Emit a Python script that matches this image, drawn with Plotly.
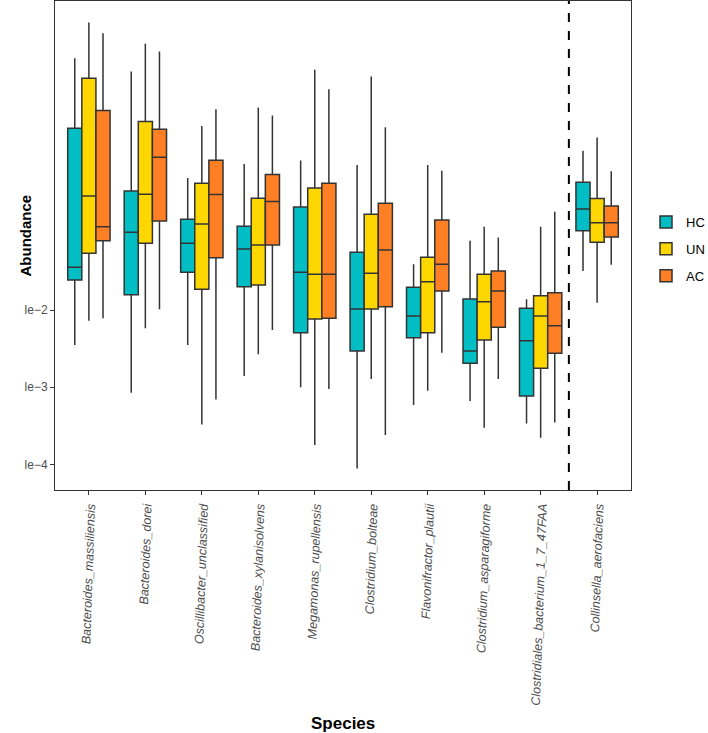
import numpy as np
import plotly.graph_objects as go

# ===============================
# Data (values read as log10 abundance)
# ===============================
species = [
    "Bacteroides_massiliensis", "Bacteroides_dorei", "Oscillibacter_unclassified",
    "Bacteroides_xylanisolvens", "Megamonas_rupellensis", "Clostridium_bolteae",
    "Flavonifractor_plautii", "Clostridium_asparagiforme",
    "Clostridiales_bacterium_1_7_47FAA", "Collinsella_aerofaciens",
]
groups = ["HC", "UN", "AC"]
colors = {"HC": "#00BEC4", "UN": "#FFD700", "AC": "#FF7F24"}

# lower whisker, q1, median, q3, upper whisker (log10)
hc_low = [-2.453, -3.071, -2.453, -2.855, -3.001, -4.051, -3.231, -3.179, -3.468, -1.495]
hc_q1 = [-1.611, -1.802, -1.512, -1.698, -2.294, -2.531, -2.359, -2.690, -3.114, -0.973]
hc_med = [-1.447, -0.994, -1.136, -1.210, -1.512, -1.987, -2.078, -2.531, -2.398, -0.692]
hc_q3 = [0.354, -0.459, -0.825, -0.916, -0.666, -1.253, -1.706, -1.858, -1.978, -0.346]
hc_high = [1.260, 1.087, -0.290, -0.109, -0.066, -0.122, -1.408, -1.102, -1.861, 0.063]

un_low = [-2.139, -2.237, -3.481, -2.574, -3.749, -2.894, -3.045, -3.525, -3.654, -1.905]
un_q1 = [-1.266, -1.136, -1.732, -1.676, -2.117, -1.987, -2.294, -2.389, -2.755, -1.123]
un_med = [-0.523, -0.501, -0.886, -1.158, -1.538, -1.525, -1.633, -1.892, -2.078, -0.869]
un_q3 = [1.001, 0.439, -0.359, -0.553, -0.420, -0.760, -1.317, -1.538, -1.815, -0.558]
un_high = [1.722, 1.446, 0.383, 0.620, 1.109, 1.022, -0.122, -0.921, -0.921, 0.232]

ac_low = [-2.108, -1.991, -3.157, -2.259, -3.023, -3.619, -2.553, -2.894, -3.455, -1.413]
ac_q1 = [-1.102, -0.847, -1.323, -1.158, -2.108, -1.957, -1.754, -2.224, -2.561, -1.054]
ac_med = [-0.921, -0.022, -0.506, -0.597, -1.538, -1.223, -1.408, -1.754, -2.203, -0.869]
ac_q3 = [0.582, 0.341, -0.061, -0.247, -0.359, -0.618, -0.834, -1.495, -1.776, -0.653]
ac_high = [1.584, 1.346, 0.600, 0.517, 0.859, 0.367, -0.196, -1.063, -0.727, -0.203]

stats = {
    "HC": (hc_low, hc_q1, hc_med, hc_q3, hc_high),
    "UN": (un_low, un_q1, un_med, un_q3, un_high),
    "AC": (ac_low, ac_q1, ac_med, ac_q3, ac_high),
}

y_tickvals = [1e-2, 1e-3, 1e-4]
y_ticktext = ["le−2", "le−3", "le−4"]

# ===============================
# Figure
# ===============================
W, H = 708, 733
L, R, T, B = 55, 77, 1, 243

fig = go.Figure()
for g in groups:
    low, q1, med, q3, high = [np.power(10.0, np.array(a)) for a in stats[g]]
    fig.add_trace(go.Box(
        x=species,
        lowerfence=low, q1=q1, median=med, q3=q3, upperfence=high,
        name=g,
        legendgroup=g,
        fillcolor=colors[g],
        line=dict(color="#333333", width=1.5),
        whiskerwidth=0,
        offsetgroup=g,
        hoverinfo="skip",
    ))

# dashed separator between the last two species
fig.add_shape(type="line", xref="x", yref="paper", x0=8.5, x1=8.5, y0=0, y1=1,
              line=dict(color="black", width=2, dash="dash"))

plot_w = W - L - R
plot_h = H - T - B

# axis titles as annotations for exact placement
fig.add_annotation(text="<b>Abundance</b>", xref="paper", yref="paper",
                   x=(15 - L) / plot_w, y=1 - (236 - T) / plot_h,
                   textangle=-90, showarrow=False,
                   font=dict(size=15, color="black", family="Arial"))
fig.add_annotation(text="<b>Species</b>", xref="paper", yref="paper",
                   x=0.5, y=-(723 - (H - B)) / plot_h, yanchor="middle",
                   showarrow=False,
                   font=dict(size=17, color="black", family="Arial"))

fig.update_layout(
    width=W, height=H,
    boxmode="group", boxgap=0.25, boxgroupgap=0,
    plot_bgcolor="white", paper_bgcolor="white",
    margin=dict(l=L, r=R, t=T, b=B, autoexpand=False),
    font=dict(family="Arial", color="#4d4d4d"),
    legend=dict(x=(646 - L) / plot_w, y=1 - (249 - T) / plot_h,
                yanchor="middle", xanchor="left",
                font=dict(size=13, color="black"), tracegroupgap=7),
    showlegend=True,
)
fig.update_xaxes(
    range=[-0.6, 9.6],
    automargin=False,
    tickangle=-88,
    tickfont=dict(size=12.5, family="Arial", color="#4d4d4d", style="italic"),
    ticks="outside", ticklen=4, tickcolor="#333333",
    showline=True, linecolor="#333333", linewidth=1, mirror=True,
    showgrid=False,
)
fig.update_yaxes(
    type="log",
    range=[-4.33, 2.0],
    automargin=False,
    tickvals=y_tickvals, ticktext=y_ticktext,
    tickfont=dict(size=12, color="#4d4d4d"),
    ticks="outside", ticklen=4, tickcolor="#333333",
    showline=True, linecolor="#333333", linewidth=1, mirror=True,
    showgrid=False, zeroline=False,
)

# drop the default page margin so the figure sits at the window's corner
fig.write_html("out.html", config={"displayModeBar": False},
               post_script="document.body.style.margin='0';")
